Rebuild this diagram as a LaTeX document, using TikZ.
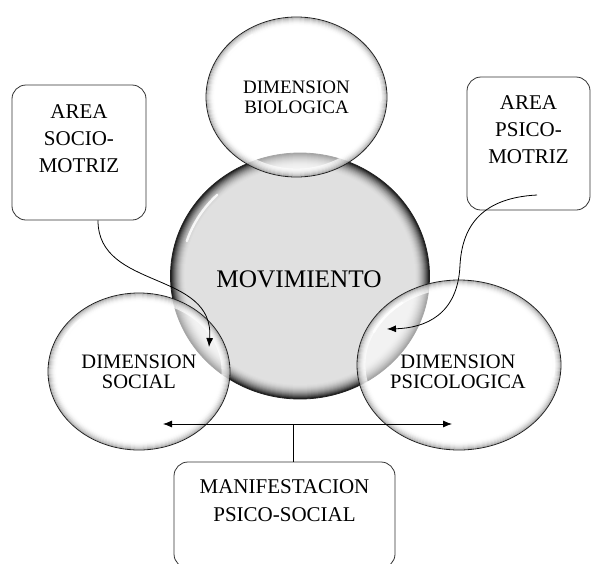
\documentclass[tikz,border=0pt]{standalone}
\usepackage{fontspec}
\setmainfont{Liberation Serif}
\usetikzlibrary{arrows.meta,shapes.geometric}
% #1 node, #2 x radius, #3 y radius, #4 last step, #5 darkness at rim, #6 base darkness, #7 opacity, #8 ring width
\newcommand\myrim[8]{%
  \foreach \k in {0,...,#4}{%
    \pgfmathsetmacro\myc{#6+(#5-#6)*(1-\k/(#4+1))^2}%
    \pgfmathsetmacro\myrx{#2-0.9-\k}%
    \pgfmathsetmacro\myry{#3-0.9-\k}%
    \draw[black!\myc, line width=#8, opacity=#7] (#1.center) ellipse [x radius=\myrx, y radius=\myry];
  }%
  \draw[black!88, line width=0.8pt] (#1.center) ellipse [x radius=#2, y radius=#3];
}
\tikzset{
  bubble/.style={ellipse, fill=white, fill opacity=0.6, text opacity=1, inner sep=0pt,
    align=center, font=\fontsize{20.5}{20}\selectfont},
  bigbubble/.style={ellipse, fill=black!12, inner sep=0pt},
  roundbox/.style={draw=black!80, line width=0.8pt, rounded corners=14pt, fill=white,
    align=center, inner sep=0pt, font=\fontsize{21}{27}\selectfont},
  conn/.style={draw=black, line width=0.8pt, -{Latex[length=9pt,width=7pt]}},
  bothconn/.style={draw=black, line width=0.8pt, {Latex[length=9pt,width=7pt]}-{Latex[length=9pt,width=7pt]}},
  plainline/.style={draw=black, line width=0.8pt},
  glint/.style={draw=white, line width=2.4pt, line cap=round, opacity=0.85}
}
\begin{document}
\begin{tikzpicture}[x=1pt,y=-1pt]
\useasboundingbox (0,0) rectangle (592,563);
\clip (0,0) rectangle (592,563);
\fill[white] (0,0) rectangle (592,563);

% boxes
\node[roundbox, minimum width=134pt, minimum height=135pt] (boxL) at (79,152.5)
  {AREA\\SOCIO-\\MOTRIZ\\\rule{0pt}{0pt}};
\node[roundbox, minimum width=123pt, minimum height=133pt] (boxR) at (528.5,143.5)
  {AREA\\PSICO-\\MOTRIZ\\\rule{0pt}{0pt}};
\node[roundbox, minimum width=221pt, minimum height=106pt, font=\fontsize{21}{28}\selectfont] (boxB) at (284.5,515)
  {MANIFESTACION\\PSICO-SOCIAL\\\rule{0pt}{0pt}};

% central sphere
\node[bigbubble, minimum width=259pt, minimum height=246pt] (mov) at (300,276) {};
\myrim{mov}{129.5}{123}{14}{88}{12}{1}{1.7pt}
\draw[glint] ([shift={(198:119 and 113)}]mov.center) arc[start angle=198, end angle=226, x radius=119, y radius=113];
\node[font=\fontsize{25.3}{26}\selectfont] (movtext) at (299,279) {MOVIMIENTO};

% outer bubbles
\node[bubble, minimum width=181pt, minimum height=160pt, font=\fontsize{19}{20}\selectfont] (bio) at (296.5,97)
  {DIMENSION\\BIOLOGICA};
\myrim{bio}{90.5}{80}{7}{42}{0}{0.7}{1.05pt}
\node[bubble, minimum width=182pt, minimum height=157pt] (soc) at (139,371.5)
  {DIMENSION\\SOCIAL};
\myrim{soc}{91}{78.5}{7}{42}{0}{0.7}{1.05pt}
\node[bubble, minimum width=204pt, minimum height=170pt] (psi) at (459,365) {};
\myrim{psi}{102}{85}{7}{42}{0}{0.7}{1.05pt}
\node[align=center, font=\fontsize{20.5}{20}\selectfont] (psitext) at (458,372)
  {DIMENSION\\PSICOLOGICA};

\draw[glint] ([shift={(200:84 and 72)}]soc.center) arc[start angle=200, end angle=226, x radius=84, y radius=72];
\draw[glint] ([shift={(205:94 and 78)}]psi.center) arc[start angle=205, end angle=233, x radius=94, y radius=78];
\draw[glint] ([shift={(-10:95 and 78)}]psi.center) arc[start angle=-10, end angle=8, x radius=95, y radius=78];
\draw[glint] ([shift={(215:83 and 73)}]bio.center) arc[start angle=215, end angle=238, x radius=83, y radius=73];
\draw[glint] ([shift={(-15:84 and 73)}]bio.center) arc[start angle=-15, end angle=3, x radius=84, y radius=73];

% connectors
\coordinate (tipL) at (209,347);
\coordinate (startR) at (537,195);
\coordinate (tipR) at (387,329);
\coordinate (hl) at (163,424);
\coordinate (hr) at (452,424);
\coordinate (jn) at (293,424);

\draw[conn] ([xshift=19pt]boxL.south) .. controls +(0,70) and (215,270) .. (tipL);
\draw[conn] (startR) .. controls (478,198) and (462,230) .. (460,265)
  .. controls (458,315) and (425,328) .. (tipR);
\draw[bothconn] (hl) -- (hr);
\draw[plainline] ([xshift=8.5pt]boxB.north) -- (jn);
\end{tikzpicture}
\end{document}
